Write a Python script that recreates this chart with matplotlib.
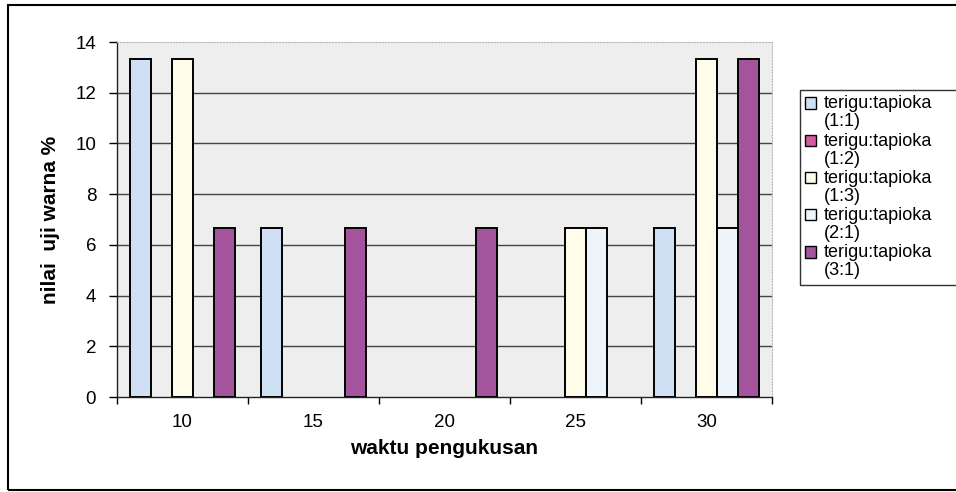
import numpy as np
import matplotlib
matplotlib.use("Agg")
import matplotlib.pyplot as plt
from matplotlib.patches import Rectangle, Patch
from matplotlib.legend_handler import HandlerPatch

plt.rcParams['font.family'] = ['Liberation Sans', 'DejaVu Sans']

# waktu pengukusan (menit)
waktu = ['10', '15', '20', '25', '30']

# nilai uji warna (%) per perbandingan terigu:tapioka
s_1_1 = [13.33, 6.67, 0, 0, 6.67]
s_1_2 = [0, 0, 0, 0, 0]
s_1_3 = [13.33, 0, 0, 6.67, 13.33]
s_2_1 = [0, 0, 0, 6.67, 6.67]
s_3_1 = [6.67, 6.67, 6.67, 0, 13.33]

series = [s_1_1, s_1_2, s_1_3, s_2_1, s_3_1]
labels = ['terigu:tapioka\n(1:1)', 'terigu:tapioka\n(1:2)', 'terigu:tapioka\n(1:3)',
          'terigu:tapioka\n(2:1)', 'terigu:tapioka\n(3:1)']
colors = ['#cfe0f4', '#d35aa0', '#fffde9', '#eef5fa', '#a4549c']

W, H = 956, 492
fig = plt.figure(figsize=(W / 100, H / 100), dpi=100)
ax = fig.add_axes([117 / W, 95 / H, (772 - 117) / W, 355 / H])
ax.set_facecolor('#eeeeee')

x = np.arange(len(waktu))
bw = 0.16
for i, (vals, col) in enumerate(zip(series, colors)):
    bars = ax.bar(x + (i - 2) * bw, vals, width=bw, color=col, edgecolor='black',
                  linewidth=1.4, zorder=3)
    # batang bernilai nol tidak digambar
    for b, v in zip(bars, vals):
        if v == 0:
            b.set_visible(False)

ax.set_xlim(-0.5, len(waktu) - 0.5)
ax.set_ylim(0, 14)
ax.set_yticks(np.arange(0, 15, 2))
ax.set_xticks(x)
ax.set_xticklabels(waktu)
ax.set_xticks(np.arange(-0.5, len(waktu), 1), minor=True)
ax.tick_params(axis='x', which='major', length=0, pad=12, labelsize=13.5)
ax.tick_params(axis='x', which='minor', length=5, width=1, direction='out')
ax.tick_params(axis='y', length=6, width=1, pad=9, labelsize=13.5)

# garis bantu horizontal
for yv in np.arange(2, 14, 2):
    ax.axhline(yv, color='#444444', linewidth=1.0, zorder=1)

for side in ('top', 'right'):
    ax.spines[side].set_color('#b8b8b8')
    ax.spines[side].set_linestyle(':')
for side in ('left', 'bottom'):
    ax.spines[side].set_color('#222222')
    ax.spines[side].set_linewidth(1.0)

ax.set_ylabel('nilai  uji warna %', fontsize=15, fontweight='bold', labelpad=11)
ax.set_xlabel('waktu pengukusan', fontsize=15, fontweight='bold', labelpad=6)


def square_on_first_line(legend, orig_handle, xdescent, ydescent, width, height, fontsize):
    # kotak legenda sejajar dengan baris pertama label
    return Rectangle((-xdescent, -ydescent + 0.55 * fontsize), width, height)


handles = [Patch(facecolor=c, edgecolor='black', linewidth=1.0) for c in colors]
leg = fig.legend(handles, labels, loc='upper left',
                 bbox_to_anchor=(800 / W, 1 - 90 / H, 200 / W, 0.0),
                 mode='expand', borderaxespad=0, fontsize=13, frameon=True,
                 fancybox=False, handlelength=0.6, handleheight=0.6,
                 handletextpad=0.4, labelspacing=0.12, borderpad=0.3,
                 handler_map={Patch: HandlerPatch(patch_func=square_on_first_line)})
leg.get_frame().set_edgecolor('black')
leg.get_frame().set_linewidth(1.0)
for t in leg.get_texts():
    t.set_linespacing(1.08)

# bingkai luar grafik
fig.patches.append(Rectangle((8 / W, 2 / H), 1.2, (H - 7) / H, transform=fig.transFigure,
                             fill=False, edgecolor='black', linewidth=1.5))

fig.savefig('out.png', dpi=100)
